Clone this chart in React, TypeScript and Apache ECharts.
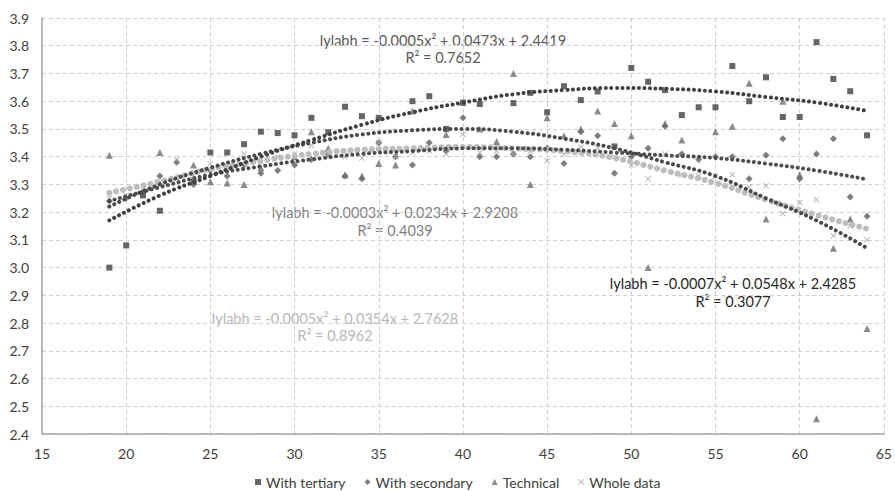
import React, { useEffect, useRef } from "react";
import * as echarts from "echarts";

// ---- data ----
const tertiary: number[][] = [
  [19, 3.0], [20, 3.08], [21, 3.26], [22, 3.205], [24, 3.31], [25, 3.415], [26, 3.415], [27, 3.445],
  [28, 3.49], [29, 3.485], [30, 3.477], [31, 3.54], [32, 3.488], [33, 3.58], [34, 3.546], [35, 3.54],
  [37, 3.6], [38, 3.618], [39, 3.5], [40, 3.595], [41, 3.59], [43, 3.593], [44, 3.63], [45, 3.56],
  [46, 3.654], [47, 3.604], [48, 3.635], [49, 3.437], [50, 3.72], [51, 3.67], [52, 3.64], [53, 3.55],
  [54, 3.578], [55, 3.578], [56, 3.727], [57, 3.6], [58, 3.686], [59, 3.543], [60, 3.543], [61, 3.813],
  [62, 3.68], [63, 3.636], [64, 3.477],
];
const secondary: number[][] = [
  [19, 3.24], [20, 3.25], [21, 3.27], [22, 3.33], [23, 3.38], [24, 3.3], [25, 3.35], [26, 3.33],
  [27, 3.37], [28, 3.34], [29, 3.35], [30, 3.37], [31, 3.39], [32, 3.41], [33, 3.33], [34, 3.32],
  [35, 3.45], [36, 3.4], [37, 3.37], [38, 3.45], [39, 3.42], [40, 3.54], [41, 3.4], [42, 3.4],
  [43, 3.41], [44, 3.4], [45, 3.43], [46, 3.375], [47, 3.49], [48, 3.475], [49, 3.34], [50, 3.4],
  [51, 3.43], [52, 3.51], [53, 3.41], [54, 3.39], [55, 3.4], [56, 3.4], [57, 3.32], [58, 3.405],
  [59, 3.465], [60, 3.32], [61, 3.41], [62, 3.465], [63, 3.255], [64, 3.185],
];
const technical: number[][] = [
  [19, 3.405], [22, 3.415], [24, 3.37], [25, 3.31], [26, 3.305], [27, 3.3], [28, 3.36], [30, 3.4],
  [31, 3.49], [32, 3.43], [33, 3.335], [34, 3.33], [35, 3.375], [36, 3.37], [37, 3.565], [39, 3.48],
  [40, 3.595], [41, 3.5], [42, 3.455], [43, 3.7], [44, 3.3], [45, 3.54], [46, 3.475], [47, 3.5],
  [48, 3.565], [49, 3.52], [50, 3.475], [51, 3.0], [52, 3.52], [53, 3.46], [55, 3.49], [56, 3.51],
  [57, 3.665], [58, 3.175], [59, 3.6], [60, 3.335], [61, 2.455], [62, 3.07], [63, 3.175], [64, 2.78],
];
const wholeData: number[][] = [
  [19, 3.25], [20, 3.26], [21, 3.28], [22, 3.31], [23, 3.39], [24, 3.33], [25, 3.375], [26, 3.36],
  [27, 3.41], [28, 3.38], [29, 3.4], [30, 3.41], [31, 3.44], [32, 3.4], [33, 3.4], [34, 3.395],
  [35, 3.45], [36, 3.4], [37, 3.415], [38, 3.42], [39, 3.41], [40, 3.48], [41, 3.415], [42, 3.42],
  [43, 3.41], [44, 3.42], [45, 3.385], [46, 3.41], [47, 3.435], [48, 3.43], [49, 3.4], [50, 3.37],
  [51, 3.32], [52, 3.41], [53, 3.335], [54, 3.33], [55, 3.33], [56, 3.335], [57, 3.29], [58, 3.295],
  [59, 3.195], [60, 3.235], [61, 3.245], [62, 3.115], [63, 3.15], [64, 3.1],
];

// trend lines
const trendX = [19, 22, 25, 28, 31, 34, 37, 40, 43, 46, 49, 52, 55, 58, 61, 64];
const trendTertiary = [3.17, 3.26, 3.33, 3.4, 3.46, 3.515, 3.56, 3.595, 3.625, 3.64, 3.648, 3.645, 3.635, 3.615, 3.595, 3.565];
const trendTechnical = [3.22, 3.3, 3.36, 3.41, 3.45, 3.48, 3.495, 3.5, 3.49, 3.465, 3.43, 3.38, 3.33, 3.25, 3.17, 3.07];
const trendSecondary = [3.24, 3.29, 3.335, 3.365, 3.39, 3.41, 3.42, 3.43, 3.43, 3.425, 3.415, 3.405, 3.395, 3.375, 3.35, 3.318];
const trendWhole = [3.27, 3.31, 3.355, 3.385, 3.41, 3.425, 3.43, 3.435, 3.43, 3.42, 3.395, 3.35, 3.305, 3.245, 3.19, 3.14];

const seriesNames = ["With tertiary", "With secondary", "Technical", "Whole data"];
const equations = [
  { eq: "lylabh = -0.0005x² + 0.0473x + 2.4419", r2: "R² = 0.7652" },
  { eq: "lylabh = -0.0003x² + 0.0234x + 2.9208", r2: "R² = 0.4039" },
  { eq: "lylabh = -0.0007x² + 0.0548x + 2.4285", r2: "R² = 0.3077" },
  { eq: "lylabh = -0.0005x² + 0.0354x + 2.7628", r2: "R² = 0.8962" },
];

const FONT = "Lato, 'Open Sans', sans-serif";
const CROSS = "path://M0,1.2L1.2,0L5,3.8L8.8,0L10,1.2L6.2,5L10,8.8L8.8,10L5,6.2L1.2,10L0,8.8L3.8,5Z";

export default function App() {
  const ref = useRef<HTMLDivElement>(null);
  useEffect(() => {
    const chart = echarts.init(ref.current!, null, { renderer: "svg" });
    const zip = (ys: number[]) => trendX.map((x, i) => [x, ys[i]]);
    const trend = (ys: number[], color: string, width: number, gap: number, z: number) => ({
      type: "line",
      data: zip(ys),
      smooth: true,
      showSymbol: false,
      silent: true,
      z,
      lineStyle: { color, width, type: [0.01, gap], cap: "round" },
    });
    const gridLine = { show: true, lineStyle: { color: "#cfcfcf", type: [4, 3], width: 1 } };
    const txt = (t: string, x: number, y: number, fill: string) => ({
      type: "text",
      x,
      y,
      style: { text: t, fill, font: `14.5px ${FONT}`, align: "center", verticalAlign: "middle" },
    });
    chart.setOption({
      animation: false,
      backgroundColor: "#ffffff",
      textStyle: { fontFamily: FONT },
      grid: { left: 42, right: 9, top: 18, bottom: 57, containLabel: false },
      xAxis: {
        type: "value",
        min: 15,
        max: 65,
        interval: 5,
        axisLine: { show: true, lineStyle: { color: "#a6a6a6", width: 1.5 } },
        axisTick: { show: false },
        axisLabel: { color: "#404040", fontSize: 14, margin: 12, fontFamily: FONT },
        splitLine: gridLine,
      },
      yAxis: {
        type: "value",
        min: 2.4,
        max: 3.9,
        interval: 0.1,
        axisLine: { show: true, lineStyle: { color: "#a6a6a6", width: 1.5 } },
        axisTick: { show: false },
        axisLabel: {
          color: "#404040",
          fontSize: 14,
          margin: 13,
          fontFamily: FONT,
          formatter: (v: number) => v.toFixed(1),
        },
        splitLine: gridLine,
      },
      legend: {
        top: 475,
        left: 255,
        padding: 0,
        itemWidth: 6,
        itemHeight: 6,
        itemGap: 19,
        textStyle: { color: "#404040", fontSize: 14, lineHeight: 14, fontFamily: FONT },
        data: [
          { name: seriesNames[0], icon: "rect" },
          { name: seriesNames[1], icon: "diamond" },
          { name: seriesNames[2], icon: "triangle" },
          { name: seriesNames[3], icon: CROSS },
        ],
      },
      graphic: [
        txt(equations[0].eq, 443, 40, "#595959"),
        txt(equations[0].r2, 443, 57, "#595959"),
        txt(equations[1].eq, 395, 212, "#7f7f7f"),
        txt(equations[1].r2, 395, 230, "#7f7f7f"),
        txt(equations[2].eq, 733, 283, "#262626"),
        txt(equations[2].r2, 733, 301, "#262626"),
        txt(equations[3].eq, 335, 318, "#b8b8b8"),
        txt(equations[3].r2, 335, 335, "#b8b8b8"),
      ],
      series: [
        { name: seriesNames[0], type: "scatter", data: tertiary, symbol: "rect", symbolSize: 6, itemStyle: { color: "#404040" }, z: 3 },
        { name: seriesNames[1], type: "scatter", data: secondary, symbol: "diamond", symbolSize: 7, itemStyle: { color: "#5e5e5e" }, z: 3 },
        { name: seriesNames[2], type: "scatter", data: technical, symbol: "triangle", symbolSize: 7, itemStyle: { color: "#6e6e6e" }, z: 3 },
        { name: seriesNames[3], type: "scatter", data: wholeData, symbol: CROSS, symbolSize: 6, itemStyle: { color: "#a6a6a6" }, z: 3 },
        trend(trendWhole, "#bdbdbd", 6, 7, 4),
        trend(trendSecondary, "#4d4d4d", 4, 5.5, 5),
        trend(trendTechnical, "#4a4a4a", 4, 5.5, 5),
        trend(trendTertiary, "#404040", 4, 5.5, 5),
      ],
    });
    return () => chart.dispose();
  }, []);
  return (
    <div
      ref={ref}
      style={{ position: "absolute", left: 0, top: 0, width: 895, height: 491 }}
    />
  );
}
